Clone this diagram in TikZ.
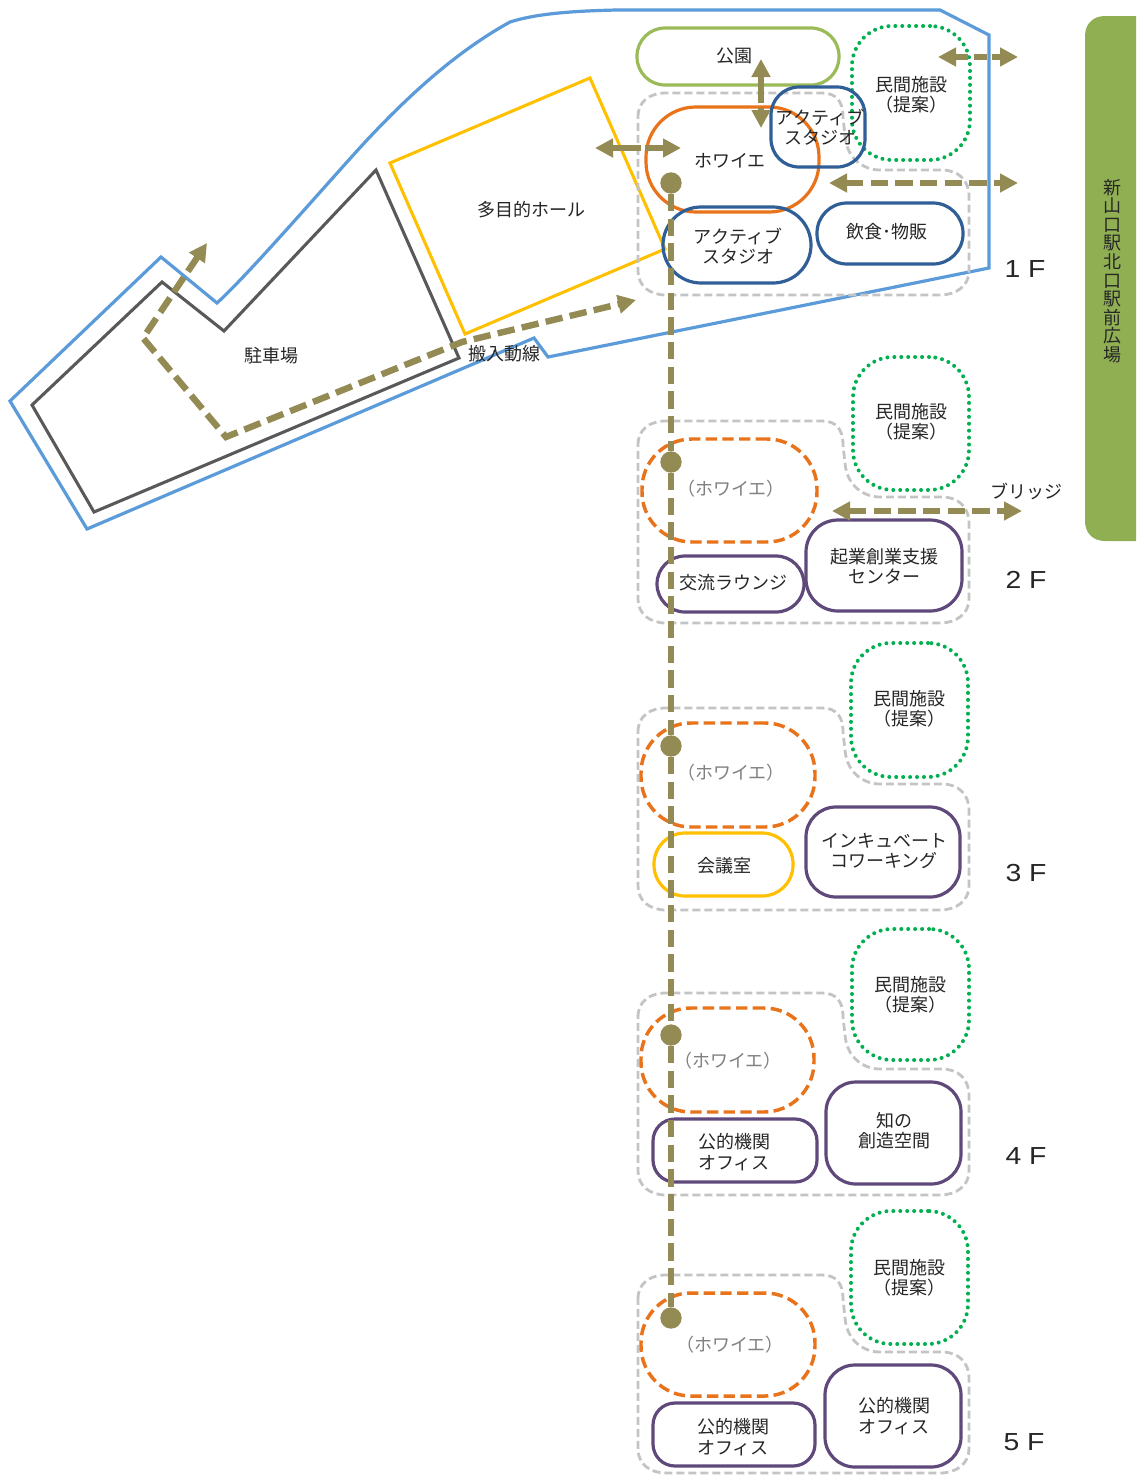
\documentclass[tikz,border=0pt]{standalone}
\usepackage{fontspec}
\setmainfont{Noto Sans CJK JP}
\newfontfamily\latinf{Liberation Sans}
\usetikzlibrary{arrows.meta}
\definecolor{cblue}{HTML}{5B9BD9}
\definecolor{cdark}{HTML}{595959}
\definecolor{cyellow}{HTML}{FFC000}
\definecolor{cgreen}{HTML}{9BBB59}
\definecolor{cpanel}{HTML}{8FAF52}
\definecolor{cdot}{HTML}{00B050}
\definecolor{cnavy}{HTML}{2F5F96}
\definecolor{corange}{HTML}{E8731A}
\definecolor{cpurple}{HTML}{5F497A}
\definecolor{cgray}{HTML}{C4C4C4}
\definecolor{cbrown}{HTML}{948A54}
\definecolor{ctext}{HTML}{262626}
\tikzset{
  bx/.style={draw,rectangle,inner sep=0pt,outer sep=0pt,line width=2.4pt},
  txt/.style={inner sep=0pt,align=center,text=ctext,yshift=-0.75pt,font=\fontsize{13.5}{15}\selectfont},
  wide/.style={txt,font=\fontsize{13.5}{16.2}\selectfont},
  foy/.style={txt,text=black!50},
  flr/.style={inner sep=0pt,text=ctext,font=\latinf\fontsize{18.5}{19}\selectfont},
  dotbox/.style={draw=cdot,line width=3pt,line cap=round,dash pattern=on 0pt off 5.2pt},
  dashfoy/.style={draw=corange,line width=2.6pt,dash pattern=on 8.5pt off 4pt},
  floorline/.style={draw=cgray,line width=2.1pt,dash pattern=on 6pt off 3pt},
  route/.style={draw=cbrown,line width=4.8pt,dash pattern=on 13pt off 5.5pt},
  bothtip/.style={{Triangle[length=13.5pt,width=13.5pt]}-{Triangle[length=13.5pt,width=13.5pt]}},
  dotn/.style={circle,fill=cbrown,inner sep=0pt,minimum size=16pt}
}
\newcommand{\flt}[1]{\scalebox{1.15}[1]{#1}}
\newcommand{\bxn}[8]{% name, style, x1,y1,x2,y2, radius, extra
  \node[bx,#2,rounded corners=#7*0.75pt,minimum width={(#5-#3)*0.75pt},minimum height={(#6-#4)*0.75pt},#8] (#1) at ({(#3+#5)/2},{(#4+#6)/2}) {};}
\newcommand{\floorshape}[3]{%
  \draw[floorline] (638,#1+24) .. controls (638,#1+8) and (650,#1) .. (666,#1) -- (822,#1)
    .. controls (836,#1) and (843,#1+8) .. (843,#1+24) -- (845,#2-34)
    .. controls (847,#2-10) and (865,#2) .. (880,#2) -- (942,#2)
    .. controls (958,#2) and (969,#2+10) .. (969,#2+26) -- (969,#3-24)
    .. controls (969,#3-9) and (956,#3) .. (940,#3) -- (666,#3)
    .. controls (650,#3) and (638,#3-9) .. (638,#3-24) -- cycle;}
\begin{document}
\begin{tikzpicture}[x=0.75pt,y=-0.75pt]
\useasboundingbox (0,0) rectangle (1136,1475);
\fill[white] (0,0) rectangle (1136,1475);
% site
\draw[cblue,line width=2.4pt,line join=miter] (87,529) -- (10,401) -- (161,257) -- (217,303)
  .. controls (250,273) and (330,180) .. (367,140)
  .. controls (400,105) and (450,55) .. (510,22)
  .. controls (535,14) and (570,11) .. (617,10)
  -- (940,10) -- (989,35) -- (989,268) -- (548,357) -- (534,338) -- cycle;
\draw[cdark,line width=2.3pt] (376,170) -- (459,358) -- (94,512) -- (32,405) -- (162,282) -- (224,331) -- cycle;
\draw[cyellow,line width=2.3pt] (390,163) -- (590,78) -- (665,249) -- (465,334) -- cycle;
% panel
\fill[cpanel] (1136,16) -- (1105,16) .. controls (1093,16) and (1085,24) .. (1085,36) -- (1085,521) .. controls (1085,533) and (1093,541) .. (1105,541) -- (1136,541) -- cycle;
\node[txt,text=black!85,font=\fontsize{13.5}{13.9}\selectfont] (panel) at (1112,270) {新\\山\\口\\駅\\北\\口\\駅\\前\\広\\場};
% floor outlines
\floorshape{93}{170}{295}
\floorshape{421}{497}{623}
\floorshape{708}{784}{910}
\floorshape{993}{1069}{1195}
\floorshape{1275}{1352}{1473}
% 1F
\bxn{park}{draw=cgreen}{637}{28}{839}{85}{28}{}
\bxn{priv1}{dotbox}{852}{26}{970}{160}{40}{}
\bxn{foyer1}{draw=corange}{646}{107}{819}{212}{50}{}
\bxn{studioa}{draw=cnavy}{771}{87}{865}{167}{28}{}
\bxn{studiob}{draw=cnavy}{663}{207}{811}{283}{38}{}
\bxn{food}{draw=cnavy}{817}{203}{963}{264}{30}{}
% 2F
\bxn{priv2}{dotbox}{853}{357}{969}{490}{40}{}
\bxn{foyer2}{dashfoy}{642}{439}{817}{542}{50}{}
\bxn{lounge}{draw=cpurple}{657}{556}{804}{612}{28}{}
\bxn{startup}{draw=cpurple}{806}{520}{962}{611}{32}{}
% 3F
\bxn{priv3}{dotbox}{851}{643}{968}{777}{40}{}
\bxn{foyer3}{dashfoy}{641}{723}{815}{827}{50}{}
\bxn{meeting}{draw=cyellow}{654}{833}{793}{896}{31}{}
\bxn{incub}{draw=cpurple}{806}{807}{960}{897}{30}{}
% 4F
\bxn{priv4}{dotbox}{852}{929}{969}{1060}{40}{}
\bxn{foyer4}{dashfoy}{641}{1008}{814}{1112}{50}{}
\bxn{office4}{draw=cpurple}{653}{1119}{817}{1182}{22}{}
\bxn{know}{draw=cpurple}{826}{1082}{961}{1184}{30}{}
% 5F
\bxn{priv5}{dotbox}{851}{1211}{968}{1344}{40}{}
\bxn{foyer5}{dashfoy}{641}{1293}{815}{1396}{50}{}
\bxn{office5a}{draw=cpurple}{653}{1403}{815}{1466}{22}{}
\bxn{office5b}{draw=cpurple}{825}{1365}{961}{1467}{30}{}
% route
\node[dotn] (c1) at (671,183) {};
\node[dotn] (c2) at (671,462) {};
\node[dotn] (c3) at (671,746) {};
\node[dotn] (c4) at (671,1035) {};
\node[dotn] (c5) at (671,1318) {};
\draw[route] (c1) -- (c2) -- (c3) -- (c4) -- (c5);
\coordinate (a1) at (207,243);
\coordinate (a2) at (143,338);
\coordinate (a3) at (226,437);
\coordinate (a3b) at (462,342);
\coordinate (a4) at (636,300);
\draw[route,bothtip,line join=miter] (a1) -- (a2) -- (a3) -- (a3b) -- (a4);
\coordinate (h1) at (595,148);
\coordinate (h2) at (681,148);
\draw[route,bothtip,dash pattern=on 22pt off 2.5pt] (h1) -- (h2);
\coordinate (v1) at (761,59);
\coordinate (v2) at (761,128);
\draw[route,bothtip,dash pattern=on 20pt off 4pt] (v1) -- (v2);
\coordinate (p1) at (938,57);
\coordinate (p2) at (1018,57);
\draw[route,bothtip,dash pattern=on 10pt off 4pt] (p1) -- (p2);
\coordinate (f1) at (829,183);
\coordinate (f2) at (1018,183);
\draw[route,bothtip] (f1) -- (f2);
\coordinate (b1) at (832,511);
\coordinate (b2) at (1022,511);
\draw[route,bothtip] (b1) -- (b2);
% labels
\node[txt] (t-hall) at (531,209) {多目的ホール};
\node[txt] (t-parking) at (271,355) {駐車場};
\node[txt] (t-load) at (504,353) {搬入動線};
\node[txt] (t-park) at (734,55) {公園};
\node[txt] (t-priv1) at (911,94) {民間施設\\（提案）};
\node[txt] (t-foy1) at (730,160) {ホワイエ};
\node[txt] (t-sta) at (820,126) {アクティブ\\スタジオ};
\node[txt] (t-stb) at (738,245) {アクティブ\\スタジオ};
\node[txt] (t-food) at (887,231) {飲食･物販};
\node[flr] (f-1) at (1025,269) {\flt{1 F}};
\node[txt] (t-priv2) at (911,421) {民間施設\\（提案）};
\node[foy] (t-foy2) at (731,488) {（ホワイエ）};
\node[txt] (t-lounge) at (733,582) {交流ラウンジ};
\node[txt] (t-startup) at (884,565) {起業創業支援\\センター};
\node[txt] (t-bridge) at (1026,490) {ブリッジ};
\node[flr] (f-2) at (1026,580) {\flt{2 F}};
\node[txt] (t-priv3) at (909,708) {民間施設\\（提案）};
\node[foy] (t-foy3) at (731,772) {（ホワイエ）};
\node[txt] (t-meet) at (724,865) {会議室};
\node[txt] (t-incub) at (884,850) {インキュベート\\コワーキング};
\node[flr] (f-3) at (1026,873) {\flt{3 F}};
\node[txt] (t-priv4) at (910,994) {民間施設\\（提案）};
\node[foy] (t-foy4) at (728,1060) {（ホワイエ）};
\node[wide] (t-off4) at (734,1151) {公的機関\\オフィス};
\node[txt] (t-know) at (894,1130) {知の\\創造空間};
\node[flr] (f-4) at (1026,1156) {\flt{4 F}};
\node[txt] (t-priv5) at (909,1277) {民間施設\\（提案）};
\node[foy] (t-foy5) at (730,1344) {（ホワイエ）};
\node[wide] (t-off5a) at (733,1436) {公的機関\\オフィス};
\node[wide] (t-off5b) at (894,1415) {公的機関\\オフィス};
\node[flr] (f-5) at (1024,1442) {\flt{5 F}};
\end{tikzpicture}
\end{document}
